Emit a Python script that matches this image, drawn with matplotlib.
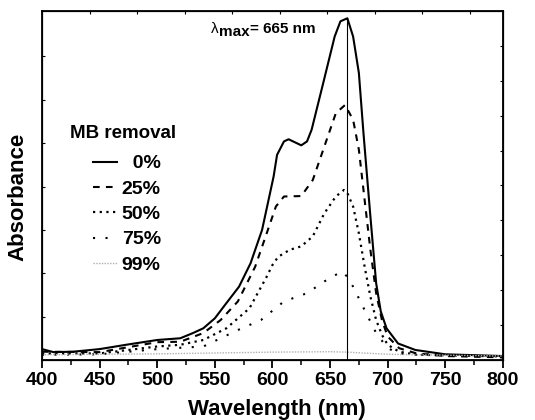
import matplotlib
matplotlib.use("Agg")
import matplotlib.pyplot as plt
import numpy as np

plt.rcParams['font.family'] = ['Liberation Sans', 'DejaVu Sans']
plt.rcParams['font.weight'] = 'bold'

# spectra (arbitrary absorbance units)
wl_0 = [400, 410, 427, 450, 473, 500, 520, 531, 540, 550, 560, 571, 581, 591, 601, 604,
        610, 614, 625, 630, 634, 644, 654, 659, 665, 670, 675, 679, 685, 690, 694, 699,
        709, 724, 750, 800]
abs_0 = [0.025, 0.018, 0.019, 0.025, 0.035, 0.046, 0.050, 0.062, 0.073, 0.096, 0.131, 0.169,
         0.223, 0.300, 0.423, 0.473, 0.504, 0.509, 0.495, 0.504, 0.531, 0.638, 0.746, 0.781,
         0.788, 0.746, 0.662, 0.523, 0.331, 0.177, 0.112, 0.073, 0.038, 0.023, 0.013, 0.009]

wl_25 = [400, 450, 500, 520, 540, 555, 570, 585, 595, 603, 610, 625, 635, 645, 655, 663,
         670, 675, 680, 685, 690, 695, 700, 710, 725, 750, 800]
abs_25 = [0.019, 0.018, 0.041, 0.042, 0.062, 0.092, 0.135, 0.215, 0.292, 0.354, 0.377, 0.378,
          0.415, 0.492, 0.569, 0.588, 0.554, 0.485, 0.369, 0.254, 0.154, 0.092, 0.054, 0.027,
          0.015, 0.009, 0.006]

wl_50 = [400, 450, 500, 520, 540, 560, 580, 595, 600, 605, 615, 625, 635, 645, 655, 662,
         665, 670, 675, 680, 685, 690, 695, 700, 710, 725, 800]
abs_50 = [0.015, 0.015, 0.031, 0.035, 0.046, 0.073, 0.119, 0.192, 0.219, 0.238, 0.254, 0.262,
          0.285, 0.338, 0.377, 0.392, 0.385, 0.354, 0.292, 0.215, 0.146, 0.092, 0.058, 0.035,
          0.019, 0.012, 0.008]

wl_75 = [400, 450, 500, 540, 570, 590, 610, 630, 645, 660, 665, 670, 680, 690, 700, 710, 800]
abs_75 = [0.012, 0.013, 0.025, 0.031, 0.069, 0.092, 0.135, 0.154, 0.181, 0.204, 0.192, 0.169,
          0.115, 0.062, 0.027, 0.015, 0.006]

wl_99 = [400, 500, 600, 650, 665, 700, 800]
abs_99 = [0.012, 0.014, 0.018, 0.019, 0.018, 0.013, 0.009]

labels = ["  0%", "25%", "50%", "75%", "99%"]
lam_max = 665

fig = plt.figure(figsize=(5.35, 4.2), dpi=100)
ax = fig.add_axes([0.0785, 0.143, 0.8615, 0.831])

ax.plot(wl_0, abs_0, color='black', lw=1.5, label=labels[0])
ax.plot(wl_25, abs_25, color='black', lw=1.5, dashes=(3.2, 3), label=labels[1])
ax.plot(wl_50, abs_50, color='black', lw=1.6, dashes=(1, 2), label=labels[2])
ax.plot(wl_75, abs_75, color='black', lw=1.5, dashes=(1, 5), label=labels[3])
ax.plot(wl_99, abs_99, color='#b0b0b0', lw=1.0, dashes=(1, 1), label=labels[4])

ax.vlines(lam_max, 0, max(abs_0), color='black', lw=0.8)

ax.set_xlim(400, 800)
ax.set_ylim(0, 0.805)
ax.set_xticks(np.arange(400, 801, 50))
ax.set_xticks(np.arange(425, 800, 50), minor=True)
ax.set_yticks(np.arange(0.1, 0.8, 0.1))
ax.set_yticklabels([])
ax.tick_params(axis='x', which='major', direction='out', length=6, width=1.3,
               labelsize=14, pad=3, top=False)
ax.tick_params(axis='x', which='minor', direction='out', length=3.5, width=1.1, top=False)
ax.tick_params(axis='y', which='major', direction='in', length=2, width=0.8, right=False)
for lab in ax.get_xticklabels():
    lab.set_fontweight('bold')
for sp in ax.spines.values():
    sp.set_linewidth(1.3)

# extra ticks on top/right spines
axr = ax.twinx()
axr.set_ylim(0, 1)
axr.set_yticks(np.arange(0.1, 1.0, 0.1))
axr.set_yticklabels([])
axr.tick_params(axis='y', direction='in', length=2, width=0.8)
axt = ax.twiny()
axt.set_xlim(0, 9.7)
axt.set_xticks(np.arange(1, 10, 1))
axt.set_xticklabels([])
axt.tick_params(axis='x', direction='in', length=2, width=0.8)

ax.set_xlabel("Wavelength (nm)", fontsize=16, fontweight='bold')
ax.set_ylabel("Absorbance", fontsize=16, fontweight='bold')
ax.xaxis.set_label_coords(0.51, -0.112)
ax.yaxis.set_label_coords(-0.03, 0.467)

ax.text(0.176, 0.65, "MB removal", transform=ax.transAxes, fontsize=13.5,
        fontweight='bold', ha='center', va='center')
leg = ax.legend(loc='upper left', bbox_to_anchor=(0.11, 0.588), frameon=False,
                fontsize=14, handlelength=1.25, handletextpad=0.25, labelspacing=0.4,
                borderaxespad=0, borderpad=0)
for t in leg.get_texts():
    t.set_fontweight('bold')

# lambda_max label built from three pieces
fig.canvas.draw()
r = fig.canvas.get_renderer()
t1 = ax.text(547, 0.754, "\u03bb", fontsize=11, fontweight='normal', va='baseline')
bb = t1.get_window_extent(r)
t2 = ax.annotate("max", xy=(0, 0), xycoords=t1, xytext=(bb.width, -3),
                 textcoords='offset pixels', fontsize=11, fontweight='bold', va='bottom')
bb2 = t2.get_window_extent(r)
ax.annotate("= 665 nm", xy=(0, 0), xycoords=t1, xytext=(bb.width + bb2.width, 0),
            textcoords='offset pixels', fontsize=11, fontweight='bold', va='bottom')

fig.savefig("out.png", dpi=100)
